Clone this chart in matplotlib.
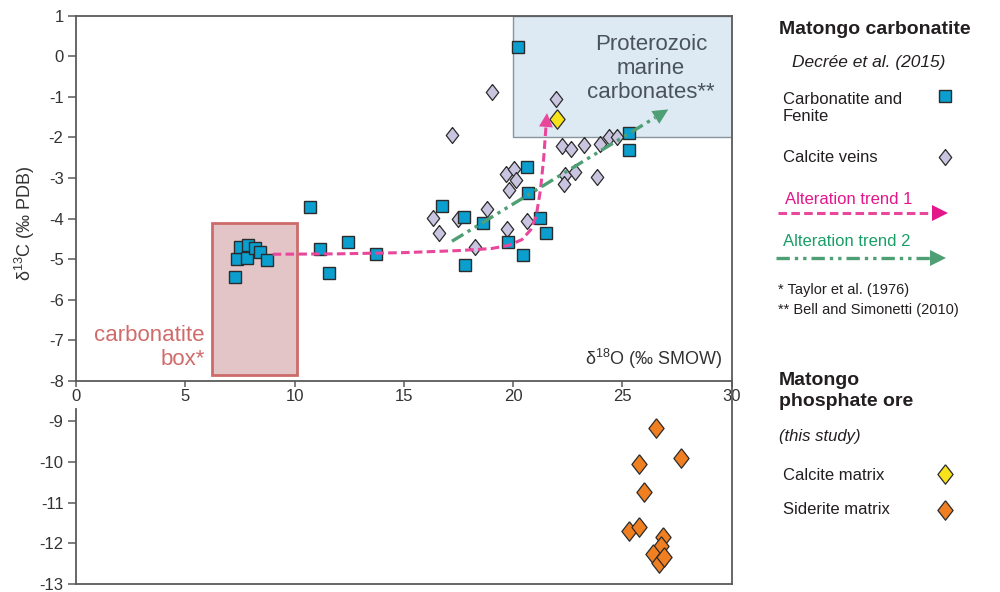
import numpy as np
import matplotlib.pyplot as plt
from matplotlib.patches import Rectangle

plt.rcParams['font.family'] = ['Liberation Sans', 'DejaVu Sans']
plt.rcParams['mathtext.fontset'] = 'custom'
plt.rcParams['mathtext.rm'] = 'Liberation Sans'
plt.rcParams['axes.unicode_minus'] = False

# carbonatite and fenite (Decree et al. 2015)
fen_x = [7.29, 7.35, 7.50, 7.84, 7.88, 8.19, 8.42, 8.72, 10.72, 11.18, 11.56, 12.46, 13.72,
         20.23, 25.28, 25.31, 20.62, 20.69, 16.73, 17.75, 18.63, 21.21, 21.50, 19.78, 20.43, 17.80]
fen_y = [-5.45, -4.99, -4.70, -4.98, -4.64, -4.72, -4.83, -5.01, -3.71, -4.74, -5.33, -4.59, -4.88,
         0.23, -1.89, -2.32, -2.74, -3.36, -3.68, -3.95, -4.11, -3.98, -4.35, -4.57, -4.91, -5.14]

# calcite veins
vein_x = [19.04, 17.19, 21.94, 22.25, 22.63, 23.24, 23.97, 24.40, 24.75, 19.67, 20.04, 20.13,
          19.82, 22.36, 22.83, 22.32, 23.85, 16.32, 16.62, 17.49, 18.79, 19.73, 20.62, 18.25]
vein_y = [-0.88, -1.93, -1.05, -2.20, -2.28, -2.19, -2.17, -1.99, -1.99, -2.89, -2.79, -3.06,
          -3.29, -2.93, -2.85, -3.16, -2.97, -3.98, -4.35, -4.01, -3.76, -4.25, -4.06, -4.69]

# phosphate ore (this study)
calc_x = [22.02]
calc_y = [-1.54]
sid_x = [26.52, 27.66, 25.77, 26.00, 25.31, 25.74, 26.87, 26.75, 26.41, 26.68, 26.90]
sid_y = [-9.17, -9.90, -10.05, -10.73, -11.70, -11.60, -11.86, -12.07, -12.27, -12.48, -12.34]

# alteration trends
t1_x = [9.0, 12.0, 15.0, 17.5, 19.0, 19.8, 20.4, 20.8, 21.05, 21.25, 21.4, 21.5]
t1_y = [-4.88, -4.87, -4.84, -4.79, -4.74, -4.66, -4.52, -4.28, -3.95, -3.3, -2.5, -1.75]
t1_tip = (21.55, -1.40)
t2_x = [17.2, 26.5]
t2_y = [-4.56, -1.51]
t2_tip = (27.1, -1.31)

# reference fields
carb_box = (6.2, -7.85, 3.9, 3.75)
prot_box = (20.0, -2.0, 10.0, 3.0)

sq_col = '#0A9FCF'
vein_col = '#C9C5E1'
yel = '#F7E21B'
ora = '#F07F22'
pink = '#E8479B'
pink_txt = '#E4178A'
green = '#4E9F73'
green_txt = '#1A9E68'
edge = '#2B2B2B'
axcol = '#5a5a5a'
dash1 = (0, (2.8, 1.4))
dash2 = (0, (4, 1.5, 1, 1.5, 1, 1.5))
diam = [(0, 1), (0.78, 0), (0, -1), (-0.78, 0), (0, 1)]

fig = plt.figure(figsize=(10, 5.92), dpi=100)
ax = fig.add_axes([0.076, 0.01402, 0.6557, 0.9595])
ax.set_xlim(0, 30)
ax.set_ylim(-13, 1)

ax.add_patch(Rectangle(prot_box[:2], prot_box[2], prot_box[3], fc='#DDE9F3', ec='#8a949c', lw=1, zorder=1))
ax.add_patch(Rectangle(carb_box[:2], carb_box[2], carb_box[3], fc='#E3C5C7', ec='#CD6B6B', lw=2, zorder=1))
ax.text(26.3, -0.3, 'Proterozoic\nmarine\ncarbonates**', ha='center', va='center', fontsize=16,
        color='#4a535b', linespacing=1.2, zorder=2)
ax.text(5.9, -7.17, 'carbonatite\nbox*', ha='right', va='center', fontsize=16, color='#D06B6B',
        linespacing=1.2)
ax.text(29.6, -7.45, 'δ$^{18}$O (‰ SMOW)', ha='right', va='center', fontsize=13, color='#333333')

ax.plot(vein_x, vein_y, ls='none', marker=diam, ms=11.5, mfc=vein_col, mec=edge, mew=0.9, zorder=3)
ax.plot(fen_x, fen_y, ls='none', marker='s', ms=8, mfc=sq_col, mec=edge, mew=1.0, zorder=4)
ax.plot(calc_x, calc_y, ls='none', marker=diam, ms=14, mfc=yel, mec=edge, mew=0.9, zorder=5)
ax.plot(sid_x, sid_y, ls='none', marker=diam, ms=14, mfc=ora, mec=edge, mew=0.9, zorder=5)

ax.plot(t1_x, t1_y, color=pink, lw=2.2, ls=dash1, zorder=6)
ax.annotate('', xy=t1_tip, xytext=(t1_x[-1], t1_y[-1]),
            arrowprops=dict(arrowstyle='-|>,head_length=0.5,head_width=0.25', color=pink, lw=0,
                            mutation_scale=20, shrinkA=0, shrinkB=0), zorder=6)
ax.plot(t2_x, t2_y, color=green, lw=2.4, ls=dash2, zorder=6)
ax.annotate('', xy=t2_tip, xytext=(t2_x[-1], t2_y[-1]),
            arrowprops=dict(arrowstyle='-|>,head_length=0.55,head_width=0.27', color=green, lw=0,
                            mutation_scale=20, shrinkA=0, shrinkB=0), zorder=6)

# axes frame: x axis sits at -8, left spine broken below it
for s in ['top', 'right']:
    ax.spines[s].set_color(axcol)
    ax.spines[s].set_linewidth(1.3)
ax.spines['bottom'].set_position(('data', -8))
ax.spines['bottom'].set_color(axcol)
ax.spines['bottom'].set_linewidth(1.3)
ax.spines['left'].set_visible(False)
ax.plot([0, 0], [-8, 1], color=axcol, lw=1.3, clip_on=False, zorder=7)
ax.plot([0, 0], [-13, -8.69], color=axcol, lw=1.3, clip_on=False, zorder=7)
ax.plot([0, 30], [-13, -13], color=axcol, lw=1.3, clip_on=False, zorder=7)

ax.set_xticks(range(0, 31, 5))
ax.set_yticks(range(-13, 2))
ax.tick_params(axis='y', direction='out', length=6, width=1.1, color=axcol, labelsize=12,
               labelcolor='#333333', pad=3)
ax.tick_params(axis='x', direction='out', length=4, width=1.1, color=axcol, labelsize=12,
               labelcolor='#333333', pad=2)
ax.text(-0.078, 0.634, 'δ$^{13}$C (‰ PDB)', transform=ax.transAxes, rotation=90,
        ha='center', va='center', fontsize=13, color='#333333')

# legend panel in pixel units
lax = fig.add_axes([0, 0, 1, 1])
lax.set_xlim(0, 1000)
lax.set_ylim(592, 0)
lax.axis('off')
tc = '#231f20'
lax.text(779, 29, 'Matongo carbonatite', fontsize=14, fontweight='bold', color=tc, va='center')
lax.text(792, 63, 'Decrée et al. (2015)', fontsize=12.5, style='italic', color=tc, va='center')
lax.text(783, 108, 'Carbonatite and\nFenite', fontsize=12, color=tc, va='center', linespacing=1.2)
lax.plot([945], [96], marker='s', ms=8, mfc=sq_col, mec=edge, mew=1.0)
lax.text(783, 157, 'Calcite veins', fontsize=12, color=tc, va='center')
lax.plot([945], [157], marker=diam, ms=11.5, mfc=vein_col, mec=edge, mew=0.9)
lax.text(785, 199, 'Alteration trend 1', fontsize=12, color=pink_txt, va='center')
lax.plot([778, 935], [213, 213], color=pink, lw=2.2, ls=dash1)
lax.plot([940], [213], marker='>', ms=12, color=pink_txt, mew=0)
lax.text(783, 241, 'Alteration trend 2', fontsize=12, color=green_txt, va='center')
lax.plot([776, 933], [258, 258], color=green, lw=2.4, ls=dash2)
lax.plot([938], [258], marker='>', ms=12, color=green, mew=0)
lax.text(778, 290, '* Taylor et al. (1976)', fontsize=10.5, color=tc, va='center')
lax.text(778, 310, '** Bell and Simonetti (2010)', fontsize=10.5, color=tc, va='center')
lax.text(779, 391, 'Matongo\nphosphate ore', fontsize=14, fontweight='bold', color=tc, va='center',
         linespacing=1.25)
lax.text(779, 436, '(this study)', fontsize=12, style='italic', color=tc, va='center')
lax.text(783, 475, 'Calcite matrix', fontsize=12, color=tc, va='center')
lax.plot([945], [474], marker=diam, ms=14, mfc=yel, mec=edge, mew=0.9)
lax.text(783, 510, 'Siderite matrix', fontsize=12, color=tc, va='center')
lax.plot([945], [510], marker=diam, ms=14, mfc=ora, mec=edge, mew=0.9)

fig.savefig('out.png', dpi=100)
